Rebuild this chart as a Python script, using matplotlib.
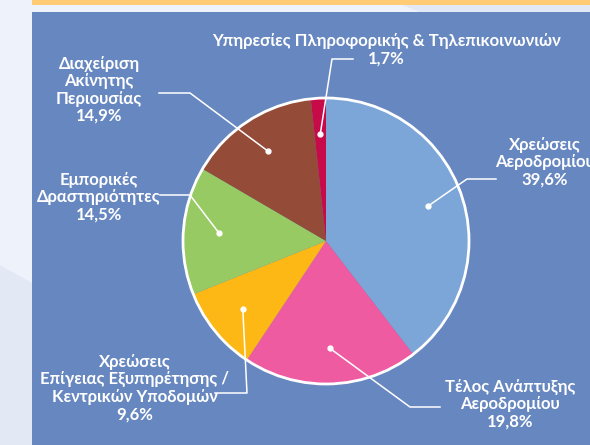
import numpy as np
import matplotlib.pyplot as plt
from matplotlib.patches import Rectangle, Polygon, Circle

plt.rcParams['font.family'] = ['Lato', 'DejaVu Sans']

# data (clockwise from 12 o'clock)
labels = ['Χρεώσεις\nΑεροδρομίου',
          'Τέλος Ανάπτυξης\nΑεροδρομίου',
          'Χρεώσεις\nΕπίγειας Εξυπηρέτησης /\nΚεντρικών Υποδομών',
          'Εμπορικές\nΔραστηριότητες',
          'Διαχείριση\nΑκίνητης\nΠεριουσίας',
          'Υπηρεσίες Πληροφορικής & Τηλεπικοινωνιών']
shares = [39.6, 19.8, 9.6, 14.5, 14.9, 1.7]
colors = ['#7BA6D7', '#EE5BA0', '#FDB815', '#97CA63', '#944B37', '#C60B48']

W, H = 590, 445
fig = plt.figure(figsize=(W / 100, H / 100), dpi=100)
fig.patch.set_facecolor('#EEF3FB')
ax = fig.add_axes([0, 0, 1, 1])
ax.set_xlim(0, W)
ax.set_ylim(0, H)
ax.set_aspect('equal')
ax.axis('off')

def Y(y):
    return H - y

# decoration
ax.add_patch(Polygon([(0, Y(265)), (32, Y(283)), (32, Y(445)), (0, Y(445))], color='#E2E9F4', lw=0))
ax.add_patch(Polygon([(402, Y(5)), (590, Y(5)), (590, Y(12)), (420, Y(12))], color='#E2E9F4', lw=0))
ax.add_patch(Rectangle((32, Y(5)), W - 32, 5, color='#FFCB75', lw=0))
ax.add_patch(Rectangle((32, 0), W - 32, Y(12), color='#6787C0', lw=0))

cx, cy, r = 326, Y(241), 143
wedges, _ = ax.pie(shares, colors=colors, startangle=90, counterclock=False,
                   center=(cx, cy), radius=r, wedgeprops=dict(linewidth=0))
ax.add_patch(Circle((cx, cy), r, fill=False, ec='white', lw=2))
ax.set_xlim(0, W)
ax.set_ylim(0, H)

# label text centre, leader elbow, leader end (pixel coords)
text_pos = [(545, 162), (510, 404), (135, 388), (99, 197), (99, 90), (386, 50)]
elbows = [(467, 179), (410, 407), (247, 393), (190, 195), (190, 93), (332, 59)]
ends = [(496, 179), (440, 407), (215, 393), (160, 195), (159, 93), (353, 59)]

for w, lab, s, tp, el, en in zip(wedges, labels, shares, text_pos, elbows, ends):
    ang = np.deg2rad((w.theta1 + w.theta2) / 2)
    dx = cx + 0.75 * r * np.cos(ang)
    dy = cy + 0.75 * r * np.sin(ang)
    ax.plot([dx, el[0], en[0]], [dy, Y(el[1]), Y(en[1])], color='white', lw=1.1)
    ax.plot(dx, dy, 'o', color='white', ms=3.5)
    ax.text(tp[0], Y(tp[1]), lab + '\n' + f'{s:.1f}%'.replace('.', ','),
            ha='center', va='center', multialignment='center', color='white',
            fontsize=12, fontweight='bold', linespacing=1.1)

fig.savefig('out.png', dpi=100, facecolor=fig.get_facecolor())
